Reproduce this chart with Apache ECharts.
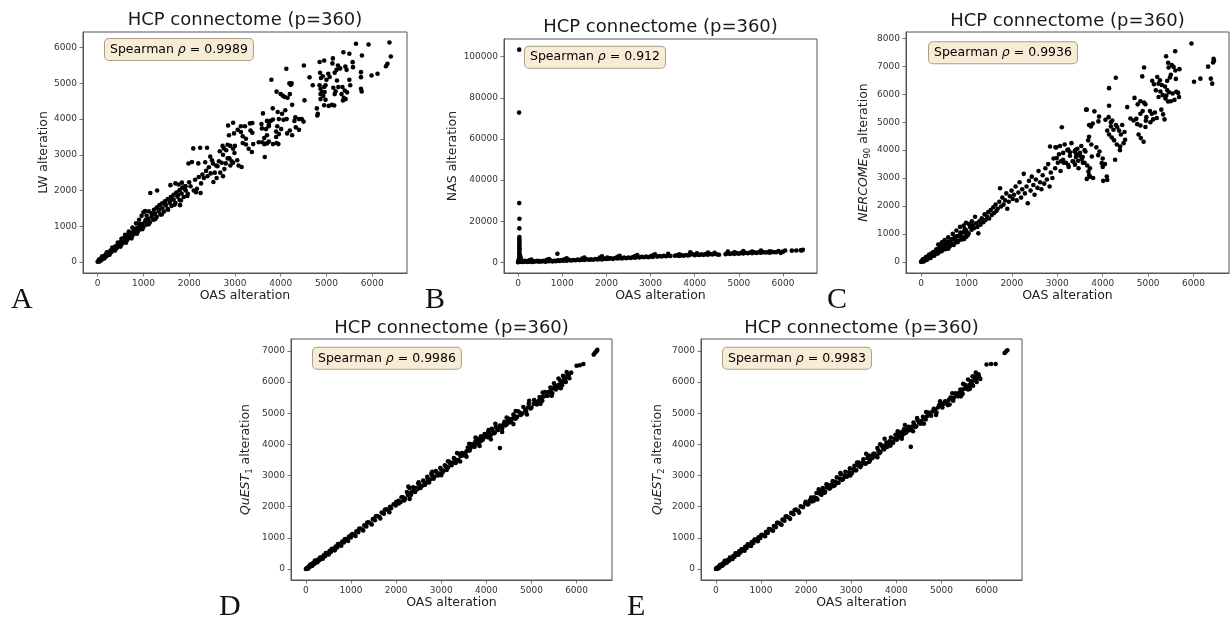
<!DOCTYPE html>
<html><head><meta charset="utf-8">
<script src="https://cdn.jsdelivr.net/npm/echarts@6/dist/echarts.min.js"></script>
<style>html,body{margin:0;padding:0;background:#fff}#c{width:1230px;height:623px}</style>
</head><body><div id="c"></div>
<script>
// ---------- tick labels / texts ----------
const xTicks = [0, 1000, 2000, 3000, 4000, 5000, 6000];
const lwTicks = [0, 1000, 2000, 3000, 4000, 5000, 6000];
const nasTicks = [0, 20000, 40000, 60000, 80000, 100000];
const nercomeTicks = [0, 1000, 2000, 3000, 4000, 5000, 6000, 7000, 8000];
const questTicks = [0, 1000, 2000, 3000, 4000, 5000, 6000, 7000];
const titleText = 'HCP connectome (p=360)';
const xName = 'OAS alteration';
const spearmanValues = ['0.9989', '0.912', '0.9936', '0.9986', '0.9983'];
const panelLetters = ['A', 'B', 'C', 'D', 'E'];

// ---------- data: [OAS alteration, other estimator alteration] ----------
const lwPoints = [
[0,5],[25,40],[40,10],[70,95],[90,60],[120,150],[140,110],[170,200],[195,160],[225,260],[250,215],[280,320],[300,270],[335,380],[360,330],[390,440],[415,385],[445,500],[470,440],[500,560],[525,495],[560,625],[585,550],[615,690],[640,610],[675,750],[700,670],[730,815],[760,735],[790,875],[820,795],[850,940],[880,855],[910,1000],[940,915],[975,1065],[1000,975],[1040,1130],[1070,1045],[1110,1200],[1140,1110],[1180,1270],[1215,1180],[1255,1345],[1290,1255],[1330,1420],[1370,1330],[1410,1500],[1450,1410],[1490,1580],[1530,1490],[1575,1660],[1615,1570],[1660,1745],[1700,1650],[1745,1830],[1790,1735],[1835,1915],[1880,1820],[1925,2000],[1970,1910],
[30,70],[60,30],[100,160],[150,100],[200,270],[260,200],[320,400],[380,320],[440,540],[500,430],[560,660],[620,540],[680,800],[740,660],[800,920],[860,790],[920,1060],[980,920],[1050,1180],[1120,1060],[1200,1330],[1260,1200],[1340,1470],[1400,1330],[1480,1620],[1540,1460],[1620,1750],[1680,1600],[1760,1880],[1820,1720],[1900,2050],[1960,1850],
[520,650],[600,760],[680,850],[760,960],[840,1080],[905,1180],[960,1290],[1000,1390],[1035,1425],[1070,1300],[1120,1420],[1180,1360],[1230,1460],[1290,1520],[1350,1590],[1410,1640],[1470,1700],[1530,1760],[1600,1820],[1660,1880],[1720,1940],[1790,2010],[1850,2080],[1920,2120],[1150,1930],[1300,2000],[1590,2150],[1700,2200],[1770,2170],[1840,2220],[1910,2120],[1800,1590],
[1985,2757],[2000,2230],[2030,2120],[2060,2800],[2090,3180],[2100,2000],[2130,2300],[2150,1950],[2170,2050],[2200,2760],[2210,2380],[2240,3200],[2250,1930],[2260,2200],[2290,2450],[2320,2350],[2350,2790],[2370,2550],[2390,3200],[2400,2400],[2430,2650],[2460,2950],[2470,2480],[2500,2850],[2520,2760],[2530,2240],[2560,2500],[2590,2700],[2600,2350],[2620,2680],[2650,2820],[2670,3100],[2680,2500],[2710,2780],[2740,2400],[2740,3000],[2770,2600],[2800,2760],[2810,3130],[2840,2900],[2880,2900],[2900,2700],[2930,2820],[2960,2780],[2990,3050],[3050,2850],[3080,2700],[3145,2660],
[2730,3250],[2760,3180],[2840,3280],[2850,3820],[2870,3550],[2900,3250],[2960,3900],[2960,3170],[2980,3600],[3000,3250],[3060,3700],[3130,3800],[3130,3640],[3170,3520],[3170,3330],[3220,3800],[3240,3450],[3240,3290],[3300,3170],[3330,3880],[3340,3680],[3370,3080],[3380,3890],[3380,3620],[3400,3300],[3520,3350],[3580,3860],[3590,3740],[3600,3350],[3613,4160],[3640,3470],[3640,3300],[3652,2940],[3680,3720],[3700,3950],[3700,3550],[3700,3320],[3740,3850],[3740,3800],[3740,3370],[3780,3950],[3797,5103],[3826,4302],[3830,3990],[3830,3300],[3900,3650],[3900,3500],[3910,4770],[3910,3330],[3925,3800],[3935,4200],[3950,3300],[3960,4000],[3960,3580],
[4000,4700],[4010,3720],[4030,4150],[4050,4650],[4060,3980],[4090,4620],[4100,4250],[4123,5411],[4130,4000],[4140,3600],[4150,4600],[4190,5000],[4200,4700],[4200,3680],[4220,4960],[4240,5000],[4250,4400],[4250,3550],[4300,3950],[4320,4050],[4330,3770],[4400,4000],[4400,3700],[4460,4000],[4500,3930],[4507,5500],[4520,4525],[4630,5170],[4700,4950],[4790,4300],[4800,4100],[4810,4150],[4850,5600],[4850,4950],[4860,5300],[4870,4850],[4870,4700],[4870,4560],[4880,5150],[4900,4760],[4920,5200],[4930,4650],[4950,5640],[4950,4900],[4950,4390],[4960,4760],[4980,4950],[4980,4540],
[5000,5100],[5040,5270],[5050,4370],[5070,5180],[5120,4400],[5130,5560],[5140,5700],[5150,4880],[5170,4380],[5180,5300],[5180,4700],[5200,4780],[5220,5380],[5230,5080],[5250,5500],[5260,4900],[5300,5420],[5330,4700],[5350,4900],[5360,4520],[5370,5874],[5380,4600],[5400,4800],[5413,5475],[5420,4560],[5440,5380],[5450,4750],[5500,5830],[5500,5100],[5520,4950],[5572,5595],[5580,5455],[5645,6109],[5754,5316],[5754,5176],[5754,4852],[5770,4776],[5775,5782],[5920,6089],[5985,5223],[6116,5270],[6300,5480],[6333,5550],[6376,6145],[6406,5754]
];

const nasPoints = [
[0,100],[10,900],[20,1800],[30,2600],[35,3500],[25,4300],[30,5200],[28,6100],[30,6900],[26,7800],[30,8700],[28,9600],[30,10500],[27,11400],[29,12300],[28,16500],[30,21200],[25,28800],[22,72800],[25,103400],[45,400],[60,1200],[80,300],[50,2500],[40,600],[55,1800],[70,900],[45,3200],
[5,200],[15,600],[40,300],[60,900],[80,150],[100,500],[130,250],[150,700],[180,400],[210,150],[240,600],[270,350],[300,800],[330,200],[360,550],[400,400],[430,750],[470,300],[500,600],[540,450],[580,800],[620,350],[660,700],[700,550],[740,900],[780,450],[820,750],[860,600],[890,4220],[900,950],[940,700],[980,1100],[1020,800],[1060,1000],[1100,750],[1150,1200],[1200,900],[1250,1150],[1300,1000],[1350,1350],[1400,1100],[1450,1300],[1500,1150],[1550,1500],[1600,1250],[1650,1450],[1700,1300],[1750,1650],[1800,1450],[1850,1600],[1900,1400],[1950,1800],[2000,1600],[2020,2300],[2060,1800],[2100,2000],[2150,1700],[2200,2100],[2250,1850],[2300,2200],[2350,1900],[2400,2300],[2450,2000],[2500,2400],[2550,2150],[2600,2550],[2650,2250],[2700,2600],[2750,2350],[2800,2700],[2850,2450],[2900,2800],[2950,2500],[3000,2900],[3050,2650],[3100,3600],[3150,2800],[3200,3100],[3250,2850],[3300,3200],[3350,2950],[3400,3300],[3450,3100],[3550,3200],[3600,3400],[3650,3100],[3700,3500],[3750,3250],[3800,3600],[3850,3350],[3900,3700],[3950,4100],[4000,3500],[4050,3800],[4100,3550],[4150,3900],[4200,3650],[4250,4000],[4300,3700],[4350,4100],[4400,3800],[4450,4200],[4500,3900],[4550,3700],[4700,4000],[4750,4300],[4800,4050],[4850,4400],[4900,4150],[4950,4500],[5000,4200],[5050,4600],[5100,4300],[5150,4700],[5200,4400],[5250,4800],[5300,4500],[5350,4850],[5400,4600],[5450,4950],[5500,4700],[5550,5000],[5600,4800],[5650,4950],[5700,4700],[5750,5100],[5800,4900],[5850,5000],[5950,4600],[6000,5200],[6050,5800],[6200,5700],[6300,5800],[6400,5900],[6450,6100],[6420,5800],
[300,1400],[700,1600],[1100,2000],[1500,2400],[1900,2900],[2300,3200],[2700,3600],[3100,3900],[3400,4200],[3900,4900],[4300,4800],[4750,5200],[5100,5500],[5500,5800],[5900,5500],[250,1000],[650,1200],[1050,1500],[1450,1900],[1850,2300],[2250,2700],[2650,3100],[3050,3400],[3650,3900],[4050,4400],[4450,4700],[4900,4900],[5300,5200],[5700,5400]
];

const nercomePoints = [
[0,0],[20,35],[35,5],[55,80],[75,40],[95,130],[115,80],[140,185],[160,120],[185,240],[205,165],[230,295],[255,210],[280,350],[305,260],[330,410],[355,305],[385,470],[410,360],[440,530],[465,410],[495,590],[520,460],[550,650],[580,520],[610,715],[640,580],[670,780],[700,640],[735,850],[765,700],[800,920],[830,760],[865,990],[895,830],[930,1060],[960,890],[995,1130],[1030,960],
[150,160],[270,300],[390,420],[510,560],[630,680],[750,800],[870,930],[980,1040],
[40,90],[70,20],[110,170],[130,70],[180,260],[210,140],[260,330],[290,220],[340,450],[370,300],[420,560],[450,380],[500,640],[540,450],[590,730],[620,540],[680,820],[720,600],[760,900],[810,720],[870,1050],[900,800],[960,1180],[1000,900],
[380,620],[460,700],[520,780],[600,880],[700,1000],[780,1120],[860,1250],[940,1300],[990,1400],[1060,1350],[1120,1450],[600,470],[800,700],[950,820],
[1050,1020],[1080,1250],[1115,1150],[1140,1320],[1165,1200],[1190,1616],[1212,1380],[1240,1250],[1262,1020],[1284,1450],[1310,1330],[1338,1560],[1372,1420],[1400,1700],[1421,1500],[1452,1620],[1477,1780],[1500,1550],[1533,1850],[1558,1680],[1592,1950],[1610,1750],[1643,2050],[1660,1820],[1688,1900],[1724,2150],[1740,2636],[1762,1980],[1791,2300],[1818,2050],[1853,2200],[1879,2450],[1900,1900],[1934,2150],[1958,2350],[1993,2550],[2021,2250],[2047,2400],[2083,2700],[2108,2200],[2144,2480],[2169,2850],[2203,2300],[2228,2600],[2262,3150],[2287,2450],[2323,2700],[2350,2100],[2377,2900],[2412,2550],[2438,3050],[2473,2750],[2500,2400],[2528,2950],[2563,2650],[2588,3250],[2622,2850],[2651,2600],[2679,3100],[2713,2800],[2738,3350],[2772,2950],[2800,3500],[2831,2700],[2858,3200],[2893,3000],[2918,3700],[2953,3350],[2980,4100],[3012,3550],[3038,3850],[3072,3250],[3100,4820],[3127,3650],[3163,4200],[3188,3550],[3222,4000],[3251,3400],[3278,3800],[3312,4250],[3338,3600],[3381,3950],[3409,3750],[3442,4050],[3468,3350],[3502,3800],[3529,4150],[3563,3550],[3600,4000],
[2841,4130],[2960,4100],[3060,4150],[3130,3900],[3240,4020],[3280,3920],[3400,4000],[3420,3850],[3500,3900],[3560,3750],[3620,3950],[3540,3680],[3460,3620],[3390,3480],[3238,3473],[3140,3550],[2989,3714],[3080,3600],[3355,3592],[3600,3550],[3660,3450],[3720,3350],
[3700,4480],[3680,4350],[3750,4200],[3860,4100],[3930,3950],[3900,3820],[4000,3700],[4050,3500],[4000,3400],[4273,3653],[3980,3534],[3760,3772],[3685,3233],[3700,3110],[3650,2970],[3720,3050],[3790,3000],[4010,2900],[4100,2930],[4090,3053],[3650,5450],[3700,4900],
[4140,5590],[3634,5449],[3817,5388],[3920,5200],[3905,5029],[3780,4950],[3740,4850],[4060,5090],[4130,5180],[4180,5000],[4210,5060],[4290,4900],[4180,4850],[4100,4700],[4140,4560],[4236,4730],[4320,4830],[4360,4700],[4400,4560],[4430,4900],[4493,4371],[4383,4130],[4250,4350],[4200,4450],[4310,4200],[4380,4000],[4460,4250],[4480,4650],
[4540,5540],[4610,5130],[4680,5060],[4740,5120],[4760,4930],[4830,4880],[4790,4560],[4840,4430],[4900,4300],[4940,4830],
[4700,5870],[4830,5750],[4910,5700],[4940,5640],[4770,5640],[4880,5400],[4830,5300],[5040,5400],[5080,5300],[4960,5180],[4950,5050],[5050,5000],[5110,5100],[5190,5150],[5150,5350],[5290,5450],[5330,5280],[5360,5100],[5440,5740],
[5090,6480],[5200,6620],[5260,6500],[5130,6360],[5230,6380],[5300,6330],[5170,6140],[5270,6100],[5370,6280],[5420,6150],[5320,5970],[5400,5950],[5230,5900],[5380,5850],[5460,6070],[5540,6030],[5620,6090],[5660,6050],[5680,5900],[5580,5800],[5500,5750],
[5954,7820],[5595,7543],[5396,7363],[5440,7130],[5450,6960],[5520,7050],[5560,6980],[5600,6850],[5690,6900],[5610,6550],[5480,6600],[5500,6700],[5420,6480],[6440,7270],[6450,7200],[6430,7140],[6320,6990],[6380,6560],[6410,6380],[6150,6560],[6010,6450],[4910,6960],[4870,6640],[4288,6590],[4140,6220]
];

const quest1Points = [
[0,0],[20,35],[35,10],[60,80],[80,55],[110,135],[130,105],[160,190],[185,160],[215,250],[240,220],[270,305],[300,280],[330,370],[360,345],[395,440],[425,410],[460,510],[490,480],[525,580],[555,550],[590,650],[625,620],[660,725],[695,695],[730,800],[765,770],[805,880],[840,850],[880,960],[915,930],[955,1040],[995,1010],[1035,1120],[1075,1090],[1120,1210],[1160,1180],[1205,1300],[1250,1270],[1295,1400],[1340,1365],[1390,1500],[1435,1465],[1485,1600],[1530,1565],[1580,1700],[1630,1670],[1680,1810],[1730,1775],[1785,1920],[1835,1880],[1866,2000],[1890,1950],[1945,2080],[1990,2040],[2050,2190],[2100,2150],[2150,2300],[2200,2260],[2271,2643],[2260,2380],[2310,2430],[2350,2480],[2400,2540],[2440,2600],[2470,2560],[2520,2690],[2570,2660],[2610,2800],[2660,2760],[2700,2890],[2750,2870],[2800,2990],[2850,2960],[2900,3090],[2950,3060],[3000,3190],[3050,3160],[3100,3300],[3150,3260],[3200,3380],[3260,3420],[3300,3530],[3340,3460],[3400,3700],[3430,3620],[3480,3640],[3560,3780],[3600,3850],[3650,3880],[3700,3950],[3720,4000],[3780,4060],[3820,4000],[3850,4150],[3890,4120],[3930,4200],[3980,4260],[4020,4230],[4060,4360],[4100,4300],[4150,4420],[4190,4380],[4240,4500],[4300,3880],[4330,4570],[4380,4640],[4420,4610],[4470,4730],[4520,4700],[4570,4820],[4620,4900],[4680,4880],[4740,5020],[4800,4990],[4860,5100],[4920,5180],[4980,5150],[5050,5300],[5100,5360],[5160,5400],[5210,5480],[5260,5530],[5330,5560],[5380,5680],[5430,5720],[5480,5800],[5540,5760],[5600,5900],[5650,5960],[5700,6030],[5750,6100],[5790,6180],[5830,6230],[6000,6520],[6070,6540],[6150,6580],[6380,6880],[6410,6940],[6440,6990],[6460,7030],
[50,20],[95,140],[145,110],[200,270],[255,220],[315,370],[375,330],[440,510],[505,470],[570,640],[640,600],[710,800],[785,750],[860,950],[935,900],[1010,1100],[1100,1060],[1180,1290],[1270,1240],[1360,1490],[1460,1430],[1550,1690],[1650,1620],[1750,1900],[1850,1820],
[2000,2150],[2060,2100],[2120,2300],[2180,2200],[2240,2470],[2300,2600],[2330,2380],[2380,2620],[2420,2470],[2490,2740],[2540,2600],[2600,2840],[2640,2700],[2690,2960],[2730,2780],[2780,3060],[2830,2900],[2880,3140],[2930,3000],[2980,3240],[3030,3100],[3080,3330],[3120,3180],[3180,3440],[3230,3330],[3280,3560],[3320,3400],[3380,3500],[3460,3720],[3500,3700],[3540,3660],[3590,3900],[3630,3800],[3680,4000],[3740,3920],[3760,4100],[3800,4180],[3840,4050],[3880,4260],[3920,4150],[3960,4330],[4000,4280],[4040,4400],[4080,4280],[4120,4500],[4170,4360],[4210,4560],[4260,4460],[4300,4600],[4350,4520],[4400,4720],[4450,4640],[4500,4820],[4550,4740],[4600,4960],[4650,4820],[4700,5060],[4760,4940],[4820,5200],[4880,5060],[4940,5300],[5000,5180],[5060,5420],[5120,5280],[5180,5520],[5240,5400],[5300,5680],[5360,5560],[5420,5820],[5460,5640],[5520,5880],[5580,5820],[5640,6040],[5680,5900],[5720,6150],[5760,6000],[5810,6250],[5840,6120],[5880,6300],
[2300,2250],[2500,2780],[2800,3120],[3000,3010],[3150,3460],[3350,3720],[3420,3450],[3560,3600],[3620,4020],[3760,4220],[3850,3950],[4050,4460],[4100,4160],[4200,4660],[4350,4400],[4450,4860],[4600,4650],[4650,5070],[4900,4960],[4950,5400],[5200,5300],[5250,5660],[5450,5560],[5500,5960],[5650,5800],[5700,6200],[5780,6320],[5600,6110]
];

const quest2Points = [
[0,0],[15,30],[30,8],[55,75],[75,45],[100,125],[125,95],[150,175],[175,150],[205,235],[230,205],[260,290],[290,265],[320,355],[350,325],[385,420],[415,395],[450,495],[480,465],[515,565],[545,535],[580,635],[615,605],[650,710],[685,680],[720,785],[760,755],[795,865],[830,835],[870,945],[905,915],[945,1020],[985,995],[1025,1100],[1065,1075],[1110,1190],[1150,1160],[1195,1285],[1240,1250],[1285,1380],[1330,1345],[1380,1485],[1425,1450],[1475,1585],[1520,1550],[1570,1690],[1620,1650],[1670,1800],[1720,1760],[1775,1905],[1825,1870],[1880,2010],[1930,1985],[1980,2100],[2030,2070],[2080,2200],[2130,2170],[2180,2300],[2230,2270],[2280,2560],[2300,2420],[2340,2380],[2380,2520],[2420,2480],[2460,2620],[2510,2580],[2560,2700],[2600,2660],[2650,2800],[2700,2760],[2750,2900],[2800,2860],[2850,3000],[2900,2960],[2950,3100],[3000,3060],[3050,3200],[3100,3170],[3150,3320],[3200,3270],[3260,3420],[3310,3380],[3360,3560],[3420,3500],[3470,3560],[3520,3700],[3560,3650],[3600,3800],[3650,3760],[3700,3900],[3760,3960],[3800,3920],[3850,4100],[3900,4080],[3960,4180],[4010,4150],[4050,4300],[4100,4250],[4140,4400],[4180,4350],[4230,4480],[4280,4450],[4320,3920],[4350,4570],[4400,4620],[4440,4580],[4500,4700],[4560,4750],[4620,4830],[4680,4900],[4730,4950],[4800,5050],[4860,5100],[4920,5180],[4990,5250],[5050,5300],[5110,5340],[5160,5420],[5220,5480],[5280,5500],[5330,5600],[5390,5650],[5440,5700],[5500,5780],[5560,5830],[5620,5900],[5670,5950],[5720,6050],[5770,6120],[5800,6200],[5830,6180],[6000,6560],[6100,6580],[6200,6580],[6400,6930],[6430,6980],[6460,7020],
[45,15],[90,130],[140,105],[195,260],[250,215],[310,365],[370,320],[435,505],[500,460],[565,630],[635,590],[705,790],[780,740],[855,940],[930,890],[1005,1090],[1090,1050],[1175,1280],[1265,1230],[1355,1480],[1455,1420],[1545,1680],[1645,1610],[1745,1890],[1845,1810],
[1990,2160],[2050,2090],[2110,2290],[2170,2190],[2230,2440],[2320,2460],[2370,2600],[2410,2450],[2480,2700],[2530,2590],[2590,2820],[2630,2680],[2680,2940],[2720,2770],[2770,3040],[2820,2890],[2870,3120],[2920,2990],[2970,3230],[3020,3090],[3070,3310],[3110,3170],[3170,3420],[3220,3320],[3270,3520],[3330,3390],[3390,3640],[3450,3620],[3490,3700],[3540,3620],[3580,3880],[3630,3720],[3680,3960],[3730,3840],[3780,4060],[3830,3980],[3880,4220],[3930,4050],[3980,4310],[4030,4200],[4080,4380],[4130,4280],[4170,4480],[4220,4380],[4270,4560],[4330,4480],[4380,4700],[4420,4560],[4470,4780],[4530,4660],[4590,4880],[4650,4800],[4710,5020],[4770,4920],[4830,5140],[4890,5020],[4950,5260],[5020,5180],[5080,5380],[5140,5260],[5200,5500],[5260,5400],[5310,5640],[5370,5540],[5420,5760],[5470,5620],[5530,5900],[5590,5760],[5650,6020],[5700,5880],[5740,6160],[5780,6000],[5820,6250],[5860,6100],
[2250,2230],[2450,2720],[2760,3080],[2980,3000],[3130,3420],[3330,3700],[3400,3440],[3580,3590],[3640,4000],[3740,4180],[3870,3960],[4030,4420],[4120,4180],[4190,4620],[4370,4420],[4460,4840],[4610,4660],[4660,5040],[4880,4940],[4970,5380],[5180,5280],[5240,5640],[5430,5540],[5480,5940],[5630,5780],[5690,6180],[5760,6300],[5590,6080]
];

// ---------- layout (positions / styles) ----------
const FONT = 'DejaVu Sans';
const panels = [
  {data: lwPoints, yTicks: lwTicks, yName: 'LW alteration', grid: [83, 32, 324, 241], xr: [-320, 6760], yr: [-310, 6440], yGap: 32, title: [245, 20.3], box: [105, 49.5], letter: [11, 300]},
  {data: nasPoints, yTicks: nasTicks, yName: 'NAS alteration', grid: [504, 39, 313, 234], xr: [-320, 6770], yr: [-5170, 108570], yGap: 44, title: [660.5, 27.5], box: [525, 57.2], letter: [425, 300]},
  {data: nercomePoints, yTicks: nercomeTicks, yName: '{i|NERCOME}{s|90}{n| alteration}', grid: [906, 32, 323, 241], xr: [-330, 6780], yr: [-400, 8230], yGap: 34, title: [1067.5, 21.7], box: [929, 52.7], letter: [827, 300]},
  {data: quest1Points, yTicks: questTicks, yName: '{i|QuEST}{s|1}{n| alteration}', grid: [291, 339, 321, 241], xr: [-330, 6785], yr: [-352, 7380], yGap: 37, title: [451.5, 328.3], box: [313, 358.3], letter: [219, 607]},
  {data: quest2Points, yTicks: questTicks, yName: '{i|QuEST}{s|2}{n| alteration}', grid: [701, 339, 321, 241], xr: [-330, 6785], yr: [-352, 7380], yGap: 35, title: [861.5, 328.3], box: [723, 358.3], letter: [627, 607]}
];

const frameColor = '#555';
const nameRich = {
  n: {fontFamily: FONT, fontSize: 12.5, color: '#222', lineHeight: 17},
  i: {fontFamily: FONT, fontSize: 12.5, fontStyle: 'italic', color: '#222', lineHeight: 17},
  s: {fontFamily: FONT, fontSize: 8.5, color: '#222', verticalAlign: 'bottom', lineHeight: 17}
};
const plain = v => String(v);

const option = {animation: false, backgroundColor: '#fff', grid: [], xAxis: [], yAxis: [], series: [], graphic: []};

panels.forEach((p, k) => {
  const [l, t, w, h] = p.grid;
  option.grid.push({left: l, top: t, width: w, height: h, show: true, borderColor: frameColor, borderWidth: 1, containLabel: false});
  const common = {
    axisLine: {show: true, onZero: false, lineStyle: {color: frameColor, width: 1}},
    axisTick: {show: true, length: 3.5, lineStyle: {color: frameColor, width: 0.8}},
    splitLine: {show: false},
    axisLabel: {fontFamily: FONT, fontSize: 9, color: '#333', margin: 6, formatter: plain}
  };
  option.xAxis.push(Object.assign({}, common, {
    type: 'value', gridIndex: k, min: p.xr[0], max: p.xr[1],
    axisTick: Object.assign({}, common.axisTick, {customValues: xTicks}),
    axisLabel: Object.assign({}, common.axisLabel, {customValues: xTicks}),
    name: xName, nameLocation: 'middle', nameGap: 14,
    nameTextStyle: {fontFamily: FONT, fontSize: 12.5, color: '#222', verticalAlign: 'top'}
  }));
  option.yAxis.push(Object.assign({}, common, {
    type: 'value', gridIndex: k, min: p.yr[0], max: p.yr[1],
    axisTick: Object.assign({}, common.axisTick, {customValues: p.yTicks}),
    axisLabel: Object.assign({}, common.axisLabel, {customValues: p.yTicks}),
    name: p.yName, nameLocation: 'middle', nameGap: p.yGap,
    nameTextStyle: {fontFamily: FONT, fontSize: 12.5, color: '#222', rich: nameRich}
  }));
  option.series.push({
    type: 'scatter', xAxisIndex: k, yAxisIndex: k, data: p.data,
    symbol: 'circle', symbolSize: 4.6, itemStyle: {color: '#000', opacity: 1}, silent: true
  });
  option.graphic.push({type: 'text', x: p.title[0], y: p.title[1], z: 10, style: {
    text: titleText, font: '18px "DejaVu Sans"', fill: '#1a1a1a',
    align: 'center', verticalAlign: 'middle', textAlign: 'center', textVerticalAlign: 'middle'}});
  option.graphic.push({type: 'text', x: p.box[0], y: p.box[1], z: 20, style: {
    text: '{n|Spearman }{i|ρ}{n| = ' + spearmanValues[k] + '}',
    rich: {
      n: {fontFamily: FONT, fontSize: 12.5, color: '#222'},
      i: {fontFamily: FONT, fontSize: 12.5, fontStyle: 'italic', color: '#222'}
    },
    align: 'left', verticalAlign: 'middle', textAlign: 'left', textVerticalAlign: 'middle',
    backgroundColor: '#f8ecd6', borderColor: '#ab9f88', borderWidth: 1, borderRadius: 4,
    padding: [4, 5, 4, 5]}});
  option.graphic.push({type: 'text', x: p.letter[0], y: p.letter[1], z: 10, style: {
    text: panelLetters[k], font: '30px "Liberation Serif"', fill: '#111',
    align: 'left', verticalAlign: 'middle', textAlign: 'left', textVerticalAlign: 'middle'}});
});

const chart = echarts.init(document.getElementById('c'), null, {renderer: 'canvas'});
chart.setOption(option);
</script>
</body></html>
